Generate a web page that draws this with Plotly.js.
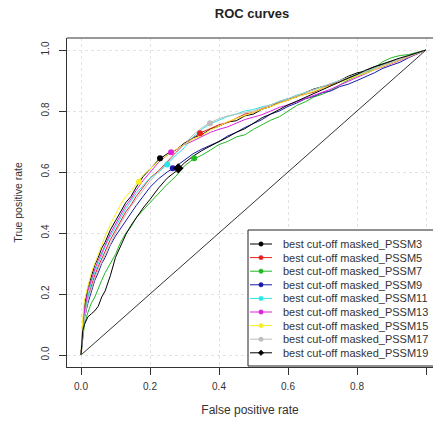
<!DOCTYPE html>
<html>
<head>
<meta charset="utf-8">
<script src="https://cdn.plot.ly/plotly-3.0.1.min.js"></script>
<style>html,body{margin:0;padding:0;background:#fff;}#chart{width:433px;height:429px;}</style>
</head>
<body>
<div id="chart"></div>
<script>
// ---------------- DATA ----------------
const seriesNames = ["best cut-off masked_PSSM3","best cut-off masked_PSSM5","best cut-off masked_PSSM7",
  "best cut-off masked_PSSM9","best cut-off masked_PSSM11","best cut-off masked_PSSM13",
  "best cut-off masked_PSSM15","best cut-off masked_PSSM17","best cut-off masked_PSSM19"];

const fpr = [0,0.005,0.01,0.02,0.03,0.04,0.05,0.06,0.07,0.085,0.1,0.115,0.13,0.145,0.16,0.18,0.2,0.225,0.25,0.275,
  0.3,0.325,0.35,0.375,0.4,0.425,0.45,0.475,0.5,0.525,0.55,0.575,0.6,0.625,0.65,0.675,0.7,0.725,0.75,0.775,
  0.8,0.825,0.85,0.875,0.9,0.925,0.95,0.975,1];

const tprPSSM3  = [0,.10,.16,.22,.26,.295,.32,.35,.37,.41,.44,.47,.50,.52,.55,.585,.61,.64,.66,.672,
  .695,.712,.722,.741,.75,.764,.768,.784,.79,.806,.815,.83,.84,.846,.86,.872,.88,.886,.90,.914,
  .925,.931,.945,.952,.962,.968,.98,.99,1];
const tprPSSM5  = [0,.08,.14,.19,.23,.262,.29,.318,.34,.378,.41,.44,.47,.492,.52,.55,.58,.604,.635,.664,
  .69,.712,.73,.742,.755,.762,.775,.79,.795,.808,.815,.827,.835,.848,.855,.862,.875,.888,.90,.906,
  .92,.93,.94,.948,.96,.97,.98,.99,1];
const tprPSSM7  = [0,.05,.10,.14,.17,.19,.22,.245,.27,.30,.33,.37,.40,.42,.45,.475,.50,.528,.56,.586,
  .62,.642,.655,.672,.69,.70,.715,.722,.74,.755,.77,.781,.80,.818,.83,.846,.855,.868,.885,.902,
  .915,.925,.94,.962,.975,.982,.985,.992,1];
const tprPSSM9  = [0,.07,.12,.17,.21,.245,.27,.30,.32,.36,.39,.415,.44,.468,.49,.52,.55,.578,.60,.618,
  .64,.66,.675,.688,.70,.718,.73,.746,.76,.772,.79,.80,.815,.826,.84,.848,.86,.866,.88,.888,
  .90,.912,.925,.94,.95,.96,.975,.988,1];
const tprPSSM11 = [0,.08,.13,.19,.24,.272,.30,.33,.355,.39,.42,.452,.48,.505,.53,.556,.58,.60,.625,.655,
  .68,.715,.74,.758,.77,.782,.79,.80,.805,.814,.82,.832,.84,.852,.86,.87,.88,.892,.90,.91,
  .92,.93,.94,.952,.96,.97,.98,.99,1];
const tprPSSM13 = [0,.09,.15,.21,.25,.282,.31,.338,.36,.398,.43,.462,.49,.512,.54,.572,.60,.632,.655,.672,
  .69,.702,.715,.73,.74,.748,.76,.772,.78,.788,.80,.812,.82,.83,.84,.852,.86,.872,.885,.898,
  .91,.922,.935,.944,.955,.965,.975,.988,1];
const tprPSSM15 = [0,.12,.18,.23,.27,.30,.33,.362,.39,.428,.46,.494,.52,.538,.56,.59,.61,.636,.655,.674,
  .69,.708,.72,.738,.75,.765,.775,.786,.795,.806,.815,.826,.835,.846,.855,.866,.875,.884,.895,.906,
  .915,.924,.935,.946,.955,.966,.978,.99,1];
const tprPSSM17 = [0,.07,.12,.18,.22,.252,.28,.305,.33,.368,.40,.432,.46,.488,.51,.542,.57,.602,.63,.662,
  .69,.722,.745,.762,.775,.784,.79,.794,.80,.811,.82,.83,.84,.85,.86,.871,.88,.89,.90,.911,
  .92,.932,.94,.95,.96,.97,.98,.99,1];
const tprPSSM19 = [0,.08,.10,.125,.135,.145,.16,.19,.21,.26,.32,.36,.395,.425,.45,.482,.51,.548,.58,.602,
  .63,.652,.67,.686,.70,.714,.73,.742,.76,.778,.79,.806,.82,.832,.845,.858,.87,.884,.895,.908,
  .92,.934,.945,.955,.965,.974,.982,.992,1];

// best cut-off points (FPR, TPR)
const cutFPR = [0.229,0.345,0.328,0.266,0.25,0.261,0.168,0.374,0.282];
const cutTPR = [0.645,0.727,0.645,0.612,0.625,0.665,0.568,0.760,0.612];

const diagX = [0,1];
const diagY = [0,1];

const tickVals = [0,0.2,0.4,0.6,0.8,1.0];
const tickText = ["0.0","0.2","0.4","0.6","0.8","1.0"];

// ---------------- STYLE ----------------
const tprAll = [tprPSSM3,tprPSSM5,tprPSSM7,tprPSSM9,tprPSSM11,tprPSSM13,tprPSSM15,tprPSSM17,tprPSSM19];
const colors = ["#000000","#e82020","#22b822","#1a1aaa","#2ae6e6","#dd22dd","#f6ee22","#bdbdbd","#000000"];
const symbols = ["circle","circle","circle","circle","circle","circle","circle","circle","diamond"];
const FONT = "Liberation Sans, Arial, sans-serif";

const W = 433, H = 429;
const ML = 67, MT = 38, PB = 367; // plot area px
const MB = H - PB;
const PW = W - ML, PH = PB - MT;
const px2x = px => (px - ML) / PW;
const py2y = py => (PB - py) / PH;
function px2xData(px) { return (px - 81) / 345; }
function py2yData(py) { return (355 - py) / 305; }

const traces = [];
traces.push({x: diagX, y: diagY, mode: "lines", line: {color: "#333333", width: 1}, showlegend: false, hoverinfo: "skip"});
tprAll.forEach((t, i) => {
  traces.push({x: fpr, y: t, mode: "lines", line: {color: colors[i], width: 1}, showlegend: false, hoverinfo: "skip"});
});
tprAll.forEach((t, i) => {
  traces.push({x: [cutFPR[i]], y: [cutTPR[i]], mode: "markers",
    marker: {color: colors[i], size: symbols[i] === "diamond" ? 8 : 6, symbol: symbols[i]},
    showlegend: false, hoverinfo: "skip"});
});

// manual legend (R-style, compact rows)
const legLeft = 248, legTop = 230, legBottom = 366;
const row0 = 244, rowStep = 13.6, lineX0 = 250, lineX1 = 272, textX = 281;
const shapes = [];
const annotations = [];
shapes.push({type: "rect", xref: "paper", yref: "paper", x0: px2x(legLeft), x1: px2x(445),
  y0: py2y(legBottom), y1: py2y(legTop), line: {color: "#222", width: 1}, fillcolor: "#ffffff", layer: "above"});
shapes.push({type: "line", xref: "paper", yref: "paper", x0: 0, x1: 1.05, y0: 1, y1: 1, line: {color: "#333", width: 1}, layer: "above"});
seriesNames.forEach((name, i) => {
  const cy = row0 + i * rowStep;
  shapes.push({type: "line", xref: "paper", yref: "paper", x0: px2x(lineX0), x1: px2x(lineX1),
    y0: py2y(cy), y1: py2y(cy), line: {color: colors[i], width: 1}, layer: "above"});
  const cx = (lineX0 + lineX1) / 2;
  if (symbols[i] === "diamond") {
    const r = 2.8;
    shapes.push({type: "path", xref: "paper", yref: "paper", layer: "above",
      path: `M ${px2x(cx)} ${py2y(cy - r)} L ${px2x(cx + r)} ${py2y(cy)} L ${px2x(cx)} ${py2y(cy + r)} L ${px2x(cx - r)} ${py2y(cy)} Z`,
      fillcolor: colors[i], line: {color: colors[i], width: 0.5}});
  } else {
    const r = 2.2;
    shapes.push({type: "circle", xref: "paper", yref: "paper", layer: "above",
      x0: px2x(cx - r), x1: px2x(cx + r), y0: py2y(cy + r), y1: py2y(cy - r),
      fillcolor: colors[i], line: {color: colors[i], width: 0.5}});
  }
  annotations.push({xref: "paper", yref: "paper", x: px2x(textX), y: py2y(cy), xanchor: "left", yanchor: "middle",
    text: name, showarrow: false, font: {family: FONT, size: 11, color: "#333"}});
});

const layout = {
  width: W, height: H,
  margin: {l: ML, r: 0, t: MT, b: MB, pad: 0},
  paper_bgcolor: "#ffffff", plot_bgcolor: "#ffffff",
  showlegend: false,
  title: {text: "ROC curves", font: {family: FONT, size: 13, color: "#222", weight: "bold"},
    xref: "container", yref: "container", x: 252 / W, y: 1 - 13 / H, xanchor: "center", yanchor: "middle"},
  xaxis: {
    range: [px2xData(ML), px2xData(W)],
    tickvals: tickVals, ticktext: tickText, ticks: "outside", ticklen: 7, tickcolor: "#333", tickwidth: 1,
    tickfont: {family: FONT, size: 10, color: "#333"}, ticklabelstandoff: 3,
    showline: true, linecolor: "#333", linewidth: 1, mirror: false,
    showgrid: true, gridcolor: "#e2e2e2", griddash: "dot", gridwidth: 1, zeroline: false,
    title: {text: "False positive rate", font: {family: FONT, size: 12, color: "#333"}, standoff: 14},
    fixedrange: true
  },
  yaxis: {
    range: [py2yData(PB), py2yData(MT)],
    tickvals: tickVals, ticktext: tickText, ticks: "outside", ticklen: 7, tickcolor: "#333", tickwidth: 1,
    tickangle: -90, tickfont: {family: FONT, size: 10, color: "#333"}, ticklabelstandoff: 6,
    showline: true, linecolor: "#333", linewidth: 1, mirror: false,
    showgrid: true, gridcolor: "#e2e2e2", griddash: "dot", gridwidth: 1, zeroline: false,
    title: {text: "True positive rate", font: {family: FONT, size: 10.5, color: "#333"}, standoff: 15},
    fixedrange: true
  },
  shapes: shapes,
  annotations: annotations
};

Plotly.newPlot("chart", traces, layout, {staticPlot: true, displayModeBar: false});
</script>
</body>
</html>
